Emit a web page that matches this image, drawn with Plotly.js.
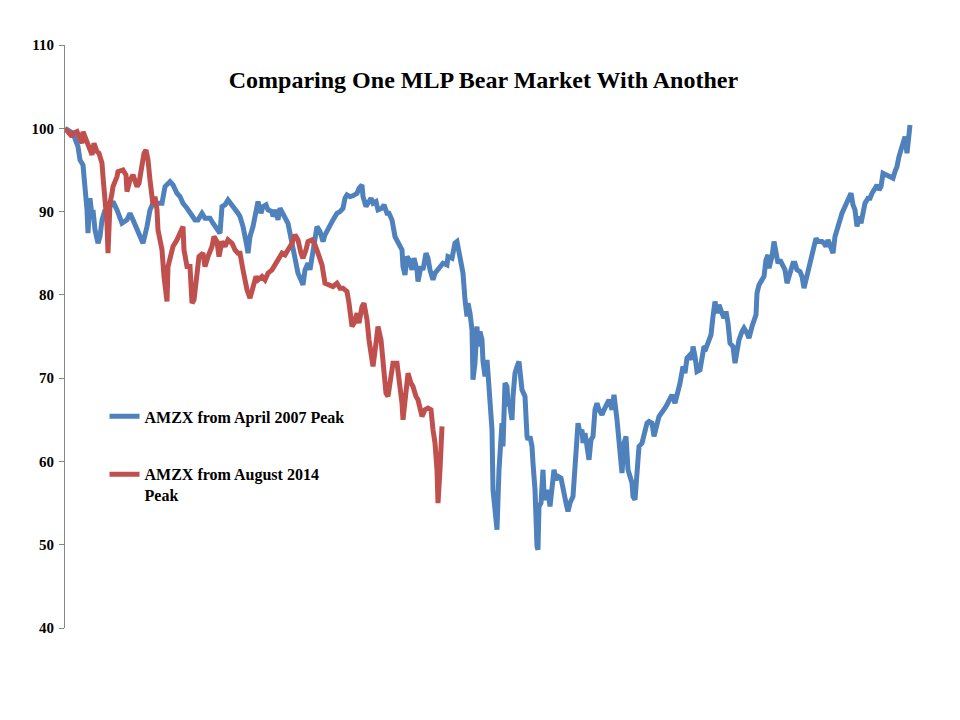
<!DOCTYPE html>
<html>
<head>
<meta charset="utf-8">
<script src="https://cdn.plot.ly/plotly-3.0.1.min.js"></script>
<style>html,body{margin:0;padding:0;background:#fff;}#chart{width:960px;height:720px;}</style>
</head>
<body>
<div id="chart"></div>
<script>
// Trading days since each peak, and index level (peak = 100)
const blueDays = [0,8,13,15,18,20,22,23,25,27,28,30,33,35,37,40,42,45,48,52,57,62,65,68,73,78,82,85,88,93,97,100,105,108,112,115,118,122,127,130,133,137,140,145,148,152,155,157,160,163,167,170,173,
175,178,182,183,185,188,192,193,196,198,201,203,207,208,211,213,215,218,220,223,225,228,231,233,236,238,240,243,245,248,250,252,255,258,260,263,266,268,270,272,275,278,280,282,285,288,292,294,297,298,301,303,306,308,311,313,317,319,322,324,327,330,333,337,338,340,342,344,347,349,352,353,356,358,361,363,365,368,370,373,
378,382,383,387,390,392,393,396,398,400,402,403,405,407,408,410,412,413,415,417,418,420,422,423,425,427,428,429,431,432,434,435,437,438,439,440,442,443,445,447,448,450,452,454,457,458,460,462,463,465,467,468,470,472,473,474,476,478,479,481,483,485,487,489,491,493,496,498,501,503,505,508,510,512,513,515,517,518,520,522,524,526,528,530,532,534,537,539,542,544,547,549,552,553,555,557,559,561,563,565,567,568,570,572,574,577,579,582,584,587,589,592,594,
601,603,607,610,612,615,618,620,622,625,627,628,630,632,635,637,639,641,643,646,648,650,652,654,657,659,661,663,665,668,670,672,674,677,679,682,684,687,689,691,692,694,697,699,701,703,704,707,709,711,713,715,718,720,722,724,726,728,730,732,735,737,739,742,744,747,748,751,753,757,759,761,763,766,768,770,772,774,777,779,782,784,786,788,790,792,794,796,798,800,803,805,807,809,812,814,816,818,821,823,826,828,830,832,834,837,838,840,842,843,845];
const blueVals = [100,99.4,97.8,96.2,95.6,93.4,90.2,87.4,91.6,89.4,90.2,87.8,86.2,87,89,90.2,89,90.6,91.2,90.2,88.6,89,89.8,89,87.4,86.2,88.2,90.2,91,91,91,93,93.6,93.2,92.2,91.8,91,90.4,89.6,89,89,89.8,89.2,89.2,88.6,87.8,87.4,90.6,90.8,91.4,90.8,90.4,89.8,
89.4,88.2,85.8,85,87,88.2,90.6,91.2,89.8,90.6,90.8,90.2,90,89.4,90.2,89,90.4,89.8,89.4,88.6,87.4,85.4,84.2,82.6,81.8,81.2,83,83.8,83,85,87,88.2,87.6,86.4,87.2,88,88.6,89,89.4,89.8,90,90.4,91.6,92,91.8,91.9,92.2,92.8,93.2,91.8,90.6,91,91.6,91,91.2,90.2,90.4,90.8,89.8,89.8,89,87,86.4,85.4,83.4,82.4,84.6,84.2,83,84.4,83,81.6,83.4,83,85,84.4,83,81.8,82.6,83,
83.8,83.6,84.6,84.4,86.2,86.4,85.8,83.8,82.6,79.4,77.4,79,77.8,75.8,69.8,71.8,76.2,73.8,75.6,74.6,72,70.2,72.2,70.6,67.8,63.8,56.6,55,53,51.8,59,62.2,64.6,61.8,65,69.4,69,67,66.6,65,67.8,70.6,71.4,72,68.6,68.2,67.8,63,62.6,63,61.8,59.8,56.6,49.8,49.4,54.6,55,59,56.2,55.4,56.6,54.6,57.4,59,57.8,58.2,58,56.6,55,54,55,55.8,59.8,64.2,64.6,63.4,63.8,62.2,63.4,61.8,60.2,62.6,63,66.2,67,66.2,65.6,66.2,67,67.4,66.2,68,65,63.8,61.4,58.6,62.2,63,59,58.2,57.4,55.8,55.4,58.6,61.8,62.2,63.4,64.6,64.8,64.6,63,64.2,65.4,
66.6,67.2,68,67,67.8,69.4,71.4,70.6,72.4,72.8,72.2,73.8,72.6,70.8,71,72.8,73.8,73.6,74.2,75.2,77.4,79.2,77.8,78.8,77.8,77.2,78,76.6,74.2,73.8,71.8,73.4,74.6,75.6,76,75.4,74.8,76.2,77,77.6,80.2,81.2,81.8,82.2,84.2,84.8,83.2,84.6,86.4,85.4,83.8,84.2,83.4,83,81.4,82.4,83,83.8,83.8,83,82.8,82.2,80.8,82.2,83.4,84.6,85.6,86.8,86.4,86.4,86.2,85.8,86.6,85.8,85,87,87.6,88.6,89.8,90.4,91,91.8,92.2,90.8,90.2,88.2,89.4,88.6,90.2,91,91.6,91.6,92.2,92.6,93.2,92.6,93,94.6,94.4,94.4,94.2,94,94.8,95.4,96.6,97.8,98.6,99,97,98.6,100.4];

const redDays = [0,3,7,8,12,14,17,18,20,22,24,27,29,32,34,37,38,40,42,43,45,47,48,52,53,58,61,62,65,68,70,72,74,77,79,81,83,85,87,88,90,92,93,97,99,102,103,106,108,112,115,118,119,122,125,127,129,132,134,138,140,143,147,149,152,154,157,160,163,167,170,173,
175,178,182,185,188,191,193,197,200,203,207,210,213,217,220,223,227,230,233,236,238,241,243,247,250,253,257,260,263,268,272,275,278,282,284,287,289,292,294,297,299,302,304,307,308,311,313,316,318,321,323,326,328,332,334,337,338,341,343,346,348,351,353,357,360,363,366,368,370,372,373,375,377];
const redVals = [100,99.6,99,99.4,99.6,99,98.2,99.6,99,98,97.4,96.8,98.2,97.2,97,95.8,94.2,91.8,88.6,85,91,92.2,93,94.2,94.8,95,94.4,92.4,93.8,94.4,93.8,93,93.4,95.6,97,97.4,96.2,93.8,91.8,90.8,91.8,90.2,87.8,85.4,82.2,79.2,83.4,85,85.8,86.6,87.6,88.2,85.4,83.4,83.4,79,79.4,83.4,84.6,85,83.4,84.6,85.8,87,86.4,84.6,86.4,85.8,86.6,86.2,85.4,85,
85,83,80.6,79.6,81,82.2,81.8,82.2,81.8,82.6,83,83.6,84.4,85,84.8,85.4,86.2,87.2,86.6,85,84.4,85.4,86.4,86.6,86,85,83.6,81.4,81.2,81,81.4,80.8,80.8,80.4,79,76.2,76.6,77.8,76.6,78.6,79,77,74.6,72.6,71.4,74.2,76.2,74.6,71.8,68.2,67.8,71,71.8,71.8,70.2,67,65,67.8,70.6,69.4,69,67.8,67.4,65.4,66.2,66.4,66.2,63.8,62.2,59,55,59,64.2];

const seriesNames = ["AMZX from April 2007 Peak", "AMZX from August 2014<br>Peak"];
const seriesColors = ["#4F81BD", "#C0504D"];
const yTicks = [40,50,60,70,80,90,100,110];
const chartTitle = "Comparing One MLP Bear Market With Another";

const serif = "'Liberation Serif', 'Times New Roman', serif";

const traces = [
  {x: blueDays, y: blueVals, name: seriesNames[0], type: "scatter", mode: "lines",
   line: {color: seriesColors[0], width: 5}, legendgroup: "a"},
  {x: redDays, y: redVals, name: seriesNames[1], type: "scatter", mode: "lines",
   line: {color: seriesColors[1], width: 5}, legendgroup: "b"}
];

const layout = {
  width: 960, height: 720,
  margin: {l: 65, r: 45, t: 45, b: 92, pad: 0},
  paper_bgcolor: "#fff", plot_bgcolor: "#fff",
  font: {family: serif, color: "#000", size: 15},
  title: {text: chartTitle, font: {family: serif, size: 24, weight: "bold", color: "#000"},
          xref: "container", x: 0.5036, xanchor: "center", yref: "container", y: 0.889, yanchor: "middle"},
  xaxis: {range: [0, 850], visible: false, showgrid: false, zeroline: false},
  yaxis: {range: [40, 110], tickvals: yTicks, ticktext: yTicks.map(String),
          showgrid: false, zeroline: false, showline: true, linecolor: "#868686", linewidth: 1,
          ticks: "outside", ticklen: 5, tickcolor: "#868686", ticklabelstandoff: 2,
          tickfont: {family: serif, size: 15, weight: "bold", color: "#000"}},
  showlegend: true,
  legend: {x: 0.0465, xanchor: "left", y: 0.392, yanchor: "top", bgcolor: "rgba(0,0,0,0)",
           font: {family: serif, size: 16, weight: "bold", color: "#000"},
           tracegroupgap: 34, itemwidth: 30, valign: "top", traceorder: "grouped"}
};

Plotly.newPlot("chart", traces, layout, {displayModeBar: false, staticPlot: true});
</script>
</body>
</html>
